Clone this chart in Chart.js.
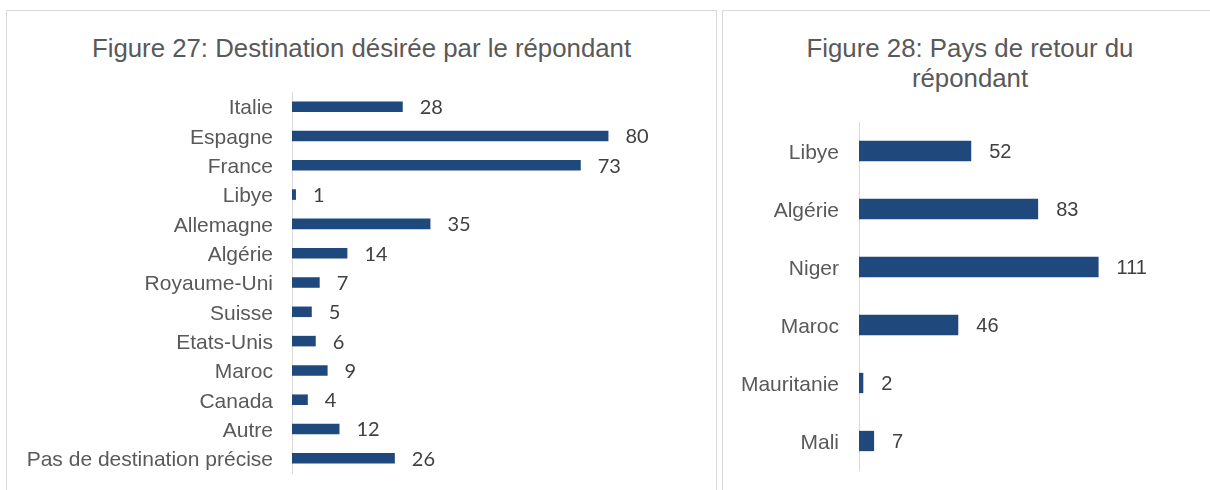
<!DOCTYPE html>
<html>
<head>
<meta charset="utf-8">
<script src="https://cdn.jsdelivr.net/npm/chart.js@4"></script>
<style>
  body { margin: 0; background: #fff; width: 1210px; height: 490px; overflow: hidden; position: relative; }
  .box { position: absolute; border: 1px solid #d9d9d9; box-sizing: border-box; background: #fff; }
  .title { position: absolute; left: 0; right: 0; text-align: center; font-family: "Liberation Sans", Arial, sans-serif; font-size: 25.8px; color: #595959; line-height: 30px; }
  canvas { position: absolute; }
</style>
</head>
<body>
<div class="box" style="left:6px; top:10px; width:711px; height:500px;">
  <div class="title" style="top:22px;">Figure 27: Destination désirée par le répondant</div>
</div>
<div class="box" style="left:722px; top:10px; width:496px; height:500px;">
  <div class="title" style="top:22px;">Figure 28: Pays de retour du<br>répondant</div>
</div>
<canvas id="chart27" style="left:7px; top:11px;" width="708" height="479"></canvas>
<canvas id="chart28" style="left:723px; top:11px;" width="487" height="479"></canvas>
<script>
// Figure 27 data
const destLabels = ['Italie', 'Espagne', 'France', 'Libye', 'Allemagne', 'Algérie', 'Royaume-Uni',
  'Suisse', 'Etats-Unis', 'Maroc', 'Canada', 'Autre', 'Pas de destination précise'];
const destValues = [28, 80, 73, 1, 35, 14, 7, 5, 6, 9, 4, 12, 26];

// Figure 28 data
const retourLabels = ['Libye', 'Algérie', 'Niger', 'Maroc', 'Mauritanie', 'Mali'];
const retourValues = [52, 83, 111, 46, 2, 7];

const barColor = '#1f497d';

// draws the value next to each bar
const valueLabels = {
  id: 'valueLabels',
  afterDatasetsDraw(chart, args, opts) {
    const ctx = chart.ctx;
    ctx.save();
    ctx.font = opts.font;
    ctx.fillStyle = '#404040';
    ctx.textBaseline = 'middle';
    ctx.textAlign = 'left';
    const meta = chart.getDatasetMeta(0);
    meta.data.forEach((bar, i) => {
      ctx.fillText(String(chart.data.datasets[0].data[i]), bar.x + opts.gap, bar.y + 1);
    });
    ctx.restore();
  }
};

function makeChart(id, labels, values, cfg) {
  return new Chart(document.getElementById(id), {
    type: 'bar',
    data: {
      labels: labels,
      datasets: [{
        data: values,
        backgroundColor: barColor,
        barPercentage: cfg.barPct,
        categoryPercentage: 1
      }]
    },
    options: {
      indexAxis: 'y',
      responsive: false,
      animation: false,
      layout: { padding: cfg.padding },
      plugins: {
        legend: { display: false },
        tooltip: { enabled: false },
        valueLabels: { font: cfg.valueFont, gap: cfg.gap }
      },
      scales: {
        x: { display: false, min: 0, max: cfg.max },
        y: {
          grid: { display: false, drawTicks: false },
          border: { display: true, color: '#d9d9d9', width: 1 },
          ticks: {
            color: '#595959',
            padding: cfg.tickPad,
            labelOffset: 2,
            font: { family: '"Liberation Sans", Arial, sans-serif', size: 21 }
          },
          afterFit(scale) {
            scale.width = cfg.axisWidth;
            // no extra room for half label heights, the layout padding handles it
            scale.paddingTop = 0;
            scale.paddingBottom = 0;
          }
        }
      }
    },
    plugins: [valueLabels]
  });
}

makeChart('chart27', destLabels, destValues, {
  max: 90,
  barPct: 0.36,
  padding: { left: 0, right: 67, top: 81, bottom: 17 },
  axisWidth: 285,
  tickPad: 19,
  gap: 17,
  valueFont: '20px Lato, "Open Sans", sans-serif'
});

makeChart('chart28', retourLabels, retourValues, {
  max: 120,
  barPct: 0.35,
  padding: { left: 0, right: 92, top: 111, bottom: 20 },
  axisWidth: 136,
  tickPad: 20,
  gap: 18,
  valueFont: '20px "Liberation Sans", Arial, sans-serif'
});
</script>
</body>
</html>
